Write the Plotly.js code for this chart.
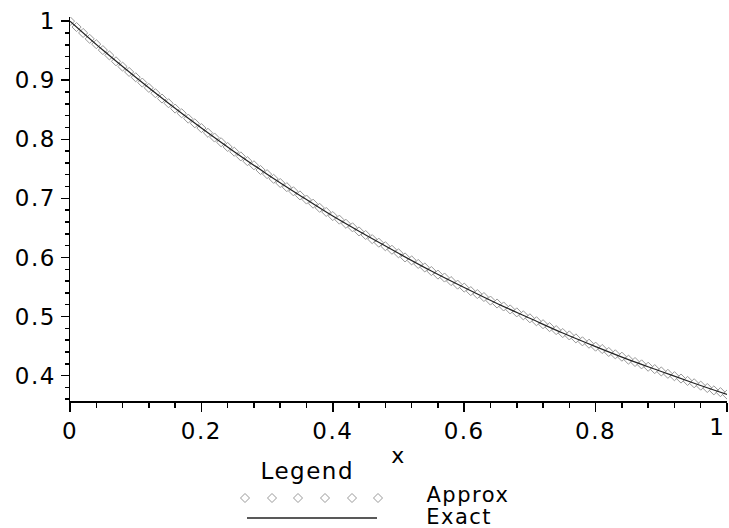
<!DOCTYPE html>
<html>
<head>
<meta charset="utf-8">
<script src="https://cdn.plot.ly/plotly-3.0.1.min.js"></script>
<style>html,body{margin:0;padding:0;background:#fff;}#chart{width:729px;height:528px;}#chart text{letter-spacing:1.5px;}</style>
</head>
<body>
<div id="chart"></div>
<script>
// Sample positions along x (~0.01 spacing)
const xValues = [0.00,0.01,0.02,0.03,0.04,0.05,0.06,0.07,0.08,0.09,
 0.10,0.11,0.12,0.13,0.14,0.15,0.16,0.17,0.18,0.19,
 0.20,0.21,0.22,0.23,0.24,0.25,0.26,0.27,0.28,0.29,
 0.30,0.31,0.32,0.33,0.34,0.35,0.36,0.37,0.38,0.39,
 0.40,0.41,0.42,0.43,0.44,0.45,0.46,0.47,0.48,0.49,
 0.50,0.51,0.52,0.53,0.54,0.55,0.56,0.57,0.58,0.59,
 0.60,0.61,0.62,0.63,0.64,0.65,0.66,0.67,0.68,0.69,
 0.70,0.71,0.72,0.73,0.74,0.75,0.76,0.77,0.78,0.79,
 0.80,0.81,0.82,0.83,0.84,0.85,0.86,0.87,0.88,0.89,
 0.90,0.91,0.92,0.93,0.94,0.95,0.96,0.97,0.98,0.99,1.00];
// Approx (marker) values
const approxValues = [1.000,0.990,0.980,0.970,0.961,0.951,0.942,0.932,0.923,0.914,
 0.905,0.896,0.887,0.878,0.869,0.861,0.852,0.844,0.835,0.827,
 0.819,0.811,0.803,0.795,0.787,0.779,0.771,0.763,0.756,0.748,
 0.741,0.733,0.726,0.719,0.712,0.705,0.698,0.691,0.684,0.677,
 0.670,0.664,0.657,0.651,0.644,0.638,0.631,0.625,0.619,0.613,
 0.607,0.600,0.595,0.589,0.583,0.577,0.571,0.566,0.560,0.554,
 0.549,0.543,0.538,0.533,0.527,0.522,0.517,0.512,0.507,0.502,
 0.497,0.492,0.487,0.482,0.477,0.472,0.468,0.463,0.458,0.454,
 0.449,0.445,0.440,0.436,0.432,0.427,0.423,0.419,0.415,0.411,
 0.407,0.403,0.399,0.395,0.391,0.387,0.383,0.379,0.375,0.372,0.368];
// Exact (line) values
const exactX = [0.0,0.05,0.1,0.15,0.2,0.25,0.3,0.35,0.4,0.45,0.5,0.55,0.6,0.65,0.7,0.75,0.8,0.85,0.9,0.95,1.0];
const exactValues = [1.000,0.951,0.905,0.861,0.819,0.779,0.741,0.705,0.670,0.638,0.607,0.577,0.549,0.522,0.497,0.472,0.449,0.427,0.407,0.387,0.368];
const seriesNames = ['Approx','Exact'];
const xTicks = [0,0.2,0.4,0.6,0.8,1];
const xTickLabels = ['0','0.2','0.4','0.6','0.8',''];
const xEndLabel = '1';   // last x tick label, right-aligned at the axis end
const yTicks = [0.4,0.5,0.6,0.7,0.8,0.9,1];
const yTickLabels = ['0.4','0.5','0.6','0.7','0.8','0.9','1'];

const FONT = 'DejaVu Sans, Liberation Sans, sans-serif';

const traces = [
  {x: xValues, y: approxValues, name: seriesNames[0], mode: 'markers',
   marker: {symbol: 'diamond-open', size: 7, color: '#999999', line: {width: 1, color: '#999999'}}},
  {x: exactX, y: exactValues, name: seriesNames[1], mode: 'lines', line: {color: '#222222', width: 1.2, shape: 'spline'}, hoverinfo: 'skip'}
];

// Custom legend layout (paper coordinates)
const L = 70, R = 727, T = 17, B = 401;
const W = R - L, H = B - T;
const px = p => (p - L) / W;
const py = p => (B - p) / H;

const shapes = [];
const diamondCenters = [245, 272, 298, 325, 352, 378];
diamondCenters.forEach(cx => {
  const hx = 4.5 / W, hy = 4.5 / H, x0 = px(cx), y0 = py(498);
  shapes.push({type: 'path', xref: 'paper', yref: 'paper',
    path: `M${x0 - hx},${y0} L${x0},${y0 + hy} L${x0 + hx},${y0} L${x0},${y0 - hy} Z`,
    line: {color: '#999999', width: 1}});
});
shapes.push({type: 'line', xref: 'paper', yref: 'paper', x0: px(247), x1: px(377), y0: py(518), y1: py(518), line: {color: '#222', width: 1.5}});

const annotations = [
  {text: 'Legend', xref: 'paper', yref: 'paper', x: px(307), y: py(471), xanchor: 'center', yanchor: 'middle', showarrow: false, font: {family: FONT, size: 23, color: '#000'}},
  {text: seriesNames[0], xref: 'paper', yref: 'paper', x: px(468), y: py(495), xanchor: 'center', yanchor: 'middle', showarrow: false, font: {family: FONT, size: 21, color: '#000'}},
  {text: seriesNames[1], xref: 'paper', yref: 'paper', x: px(459), y: py(517), xanchor: 'center', yanchor: 'middle', showarrow: false, font: {family: FONT, size: 21, color: '#000'}},
  {text: xEndLabel, xref: 'x', yref: 'paper', x: 1, y: py(412), xanchor: 'right', yanchor: 'top', showarrow: false, font: {family: FONT, size: 23, color: '#000'}}
];

const layout = {
  width: 729, height: 528,
  margin: {l: L, r: 729 - R, t: T, b: 528 - B, pad: 0},
  paper_bgcolor: '#fff', plot_bgcolor: '#fff',
  showlegend: false,
  font: {family: FONT, size: 23, color: '#000'},
  xaxis: {
    range: [0, 1], tickvals: xTicks, ticktext: xTickLabels,
    showgrid: false, zeroline: false, showline: true, linecolor: '#000', linewidth: 1.5,
    ticks: 'outside', ticklen: 9, tickwidth: 1.5, tickcolor: '#000',
    minor: {dtick: 0.04, ticks: 'outside', ticklen: 5, tickwidth: 1.5, tickcolor: '#000', showgrid: false},
    tickfont: {family: FONT, size: 23, color: '#000'},
    title: {text: 'x', font: {family: FONT, size: 22, color: '#000'}, standoff: 4},
    automargin: false, fixedrange: true
  },
  yaxis: {
    range: [0.357, 1.007], tickvals: yTicks, ticktext: yTickLabels,
    showgrid: false, zeroline: false, showline: true, linecolor: '#000', linewidth: 1.5,
    ticks: 'outside', ticklen: 8, tickwidth: 1.5, tickcolor: '#000',
    minor: {dtick: 0.02, ticks: 'outside', ticklen: 4, tickwidth: 1.5, tickcolor: '#000', showgrid: false},
    tickfont: {family: FONT, size: 23, color: '#000'},
    automargin: false, fixedrange: true
  },
  shapes: shapes,
  annotations: annotations
};

Plotly.newPlot('chart', traces, layout, {staticPlot: true, displayModeBar: false});
</script>
</body>
</html>
